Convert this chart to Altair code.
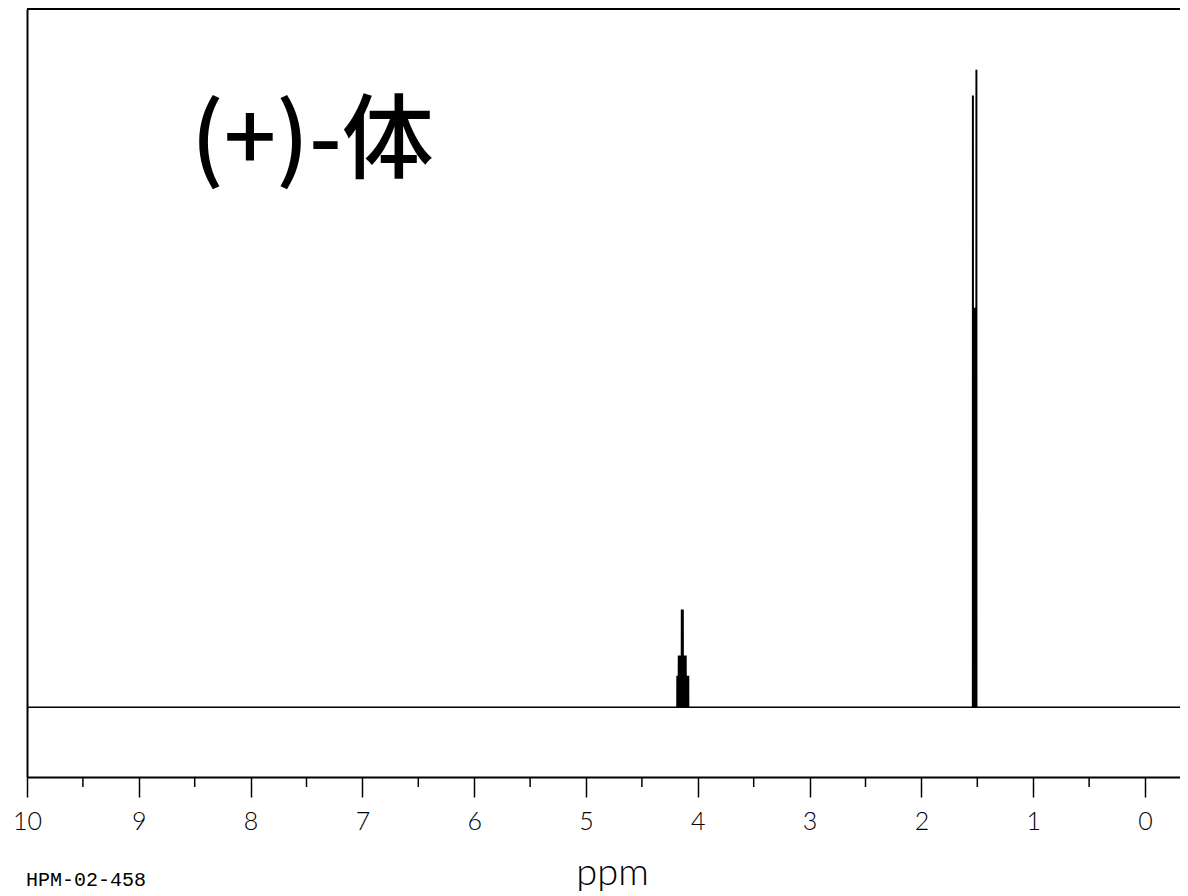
import altair as alt
import pandas as pd

# Spectrum trace (ppm, relative intensity)
ppm = [10.0, 4.1865, 4.1860, 4.1735, 4.1730, 4.1465, 4.1460, 4.1315, 4.1310,
       4.1055, 4.1050, 4.0825, 4.0820,
       1.5425, 1.5420, 1.5370, 1.5365, 1.5110, 1.5105, 1.5055, 1.5050, -0.313]
intensity = [0.0, 0.0, 0.044, 0.044, 0.073, 0.073, 0.139, 0.139, 0.073,
             0.073, 0.044, 0.044, 0.0,
             0.0, 0.875, 0.875, 0.571, 0.571, 0.912, 0.912, 0.0, 0.0]

major_ticks = [0, 1, 2, 3, 4, 5, 6, 7, 8, 9, 10]
minor_ticks = [0.5, 1.5, 2.5, 3.5, 4.5, 5.5, 6.5, 7.5, 8.5, 9.5]
x_domain = [10.0, -0.313]
y_domain = [-0.1, 1.0]
label_text = ["(+)-体"]
sample_id = ["HPM-02-458"]

W, H = 1153, 768

spec_df = pd.DataFrame({"ppm": ppm, "intensity": intensity})
minor_df = pd.DataFrame({"ppm": minor_ticks})
label_df = pd.DataFrame({"t": label_text})
id_df = pd.DataFrame({"t": sample_id})

xscale = alt.Scale(domain=x_domain, nice=False, zero=False)
yscale = alt.Scale(domain=y_domain, nice=False, zero=False)

x_axis = alt.Axis(values=major_ticks, tickSize=20, tickWidth=1.5,
                  tickColor="black", domainColor="black", domainWidth=2,
                  grid=False, labelFont="Lato", labelFontSize=25,
                  labelFontWeight=300,
                  labelColor="black", labelPadding=12, labelFlush=False,
                  labelAngle=0, format="d",
                  title="ppm", titleFont="Lato", titleFontSize=38,
                  titleFontWeight=300, titleColor="black",
                  titleX=585, titleY=107, titleAlign="center",
                  titleBaseline="alphabetic")

spectrum = alt.Chart(spec_df).mark_area(
    color="black", stroke="black", strokeWidth=1.4, interpolate="linear"
).encode(
    x=alt.X("ppm:Q", scale=xscale, axis=x_axis),
    y=alt.Y("intensity:Q", scale=yscale,
            axis=alt.Axis(ticks=False, labels=False, grid=False, title=None,
                          domainColor="black", domainWidth=2)),
)

minor = alt.Chart(minor_df).mark_rule(color="black", strokeWidth=1.5).encode(
    x=alt.X("ppm:Q", scale=xscale, axis=x_axis),
    y=alt.value(H),
    y2=alt.value(H + 10),
)

top_border = alt.Chart(label_df).mark_rule(color="black", strokeWidth=2).encode(
    x=alt.value(0), x2=alt.value(W + 10), y=alt.value(0)
)

label = alt.Chart(label_df).mark_text(
    font="Noto Sans CJK JP", fontSize=92, fontWeight=500, color="black",
    align="left", baseline="middle"
).encode(text="t:N", x=alt.value(164), y=alt.value(134))

sid = alt.Chart(id_df).mark_text(
    font="Liberation Mono", fontSize=20, fontWeight="normal", color="black",
    align="left", baseline="alphabetic"
).encode(text="t:N", x=alt.value(-1), y=alt.value(877))

chart = alt.layer(spectrum, minor, top_border, label, sid).properties(
    width=W, height=H,
    autosize=alt.AutoSizeParams(type="none"),
    padding={"left": 19, "top": 1, "right": 0, "bottom": 114},
).configure_view(stroke=None).configure(background="white")

chart.save("out.html", embed_options={"renderer": "svg", "actions": False})
